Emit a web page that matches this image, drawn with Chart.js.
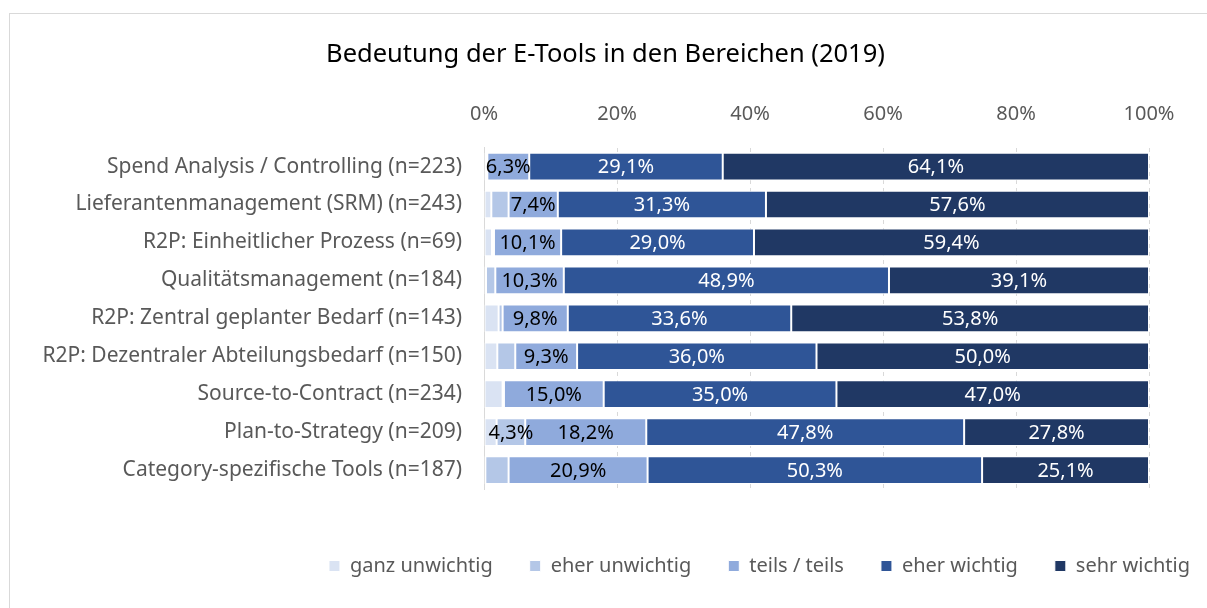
<!DOCTYPE html>
<html>
<head>
<meta charset="utf-8">
<script src="https://cdn.jsdelivr.net/npm/chart.js@4"></script>
<style>
    body { margin: 0; background: #fff; }
    #frame { position: absolute; left: 9px; top: 13px; width: 1300px; height: 700px; border: 1px solid #d9d9d9; }
    #chart1 { position: absolute; left: 0; top: 0; }
</style>
</head>
<body>
<div id="frame"></div>
<canvas id="chart1" width="1207" height="608"></canvas>
<script>
// categories (y axis)
const categories = [
    'Spend Analysis / Controlling (n=223)',
    'Lieferantenmanagement (SRM) (n=243)',
    'R2P: Einheitlicher Prozess (n=69)',
    'Qualitätsmanagement (n=184)',
    'R2P: Zentral geplanter Bedarf (n=143)',
    'R2P: Dezentraler Abteilungsbedarf (n=150)',
    'Source-to-Contract (n=234)',
    'Plan-to-Strategy (n=209)',
    'Category-spezifische Tools (n=187)'
];

// series values in percent (small ones)
const ganzUnwichtig = [0.2, 1.1, 1.2, 0.3, 2.2, 2.0, 2.8, 1.9, 0.2];
const eherUnwichtig = [0.3, 2.6, 0.3, 1.4, 0.6, 2.7, 0.2, 4.3, 3.5];
const teilsTeils = [6.3, 7.4, 10.1, 10.3, 9.8, 9.3, 15.0, 18.2, 20.9];
const eherWichtig = [29.1, 31.3, 29.0, 48.9, 33.6, 36.0, 35.0, 47.8, 50.3];
const sehrWichtig = [64.1, 57.6, 59.4, 39.1, 53.8, 50.0, 47.0, 27.8, 25.1];

const seriesNames = ['ganz unwichtig', 'eher unwichtig', 'teils / teils', 'eher wichtig', 'sehr wichtig'];
const seriesColors = ['#dae3f3', '#b4c7e7', '#8faadc', '#2f5597', '#203864'];

// x axis ticks
const tickValues = [0, 20, 40, 60, 80, 100];

const FONT = '"Noto Sans", sans-serif';
const SIZE = 20;

// 12.3 -> "12,3%"
function fmt(v) {
    return v.toFixed(1).replace('.', ',') + '%';
}

// draw value labels in the middle of the bars (only the bigger ones)
const barLabels = {
    id: 'barLabels',
    afterDatasetsDraw(chart) {
        const ctx = chart.ctx;
        ctx.save();
        ctx.font = SIZE + 'px ' + FONT;
        ctx.textAlign = 'center';
        ctx.textBaseline = 'middle';
        chart.data.datasets.forEach((ds, i) => {
            const meta = chart.getDatasetMeta(i);
            meta.data.forEach((bar, j) => {
                const v = ds.data[j];
                if (v < 4) return;
                const p = bar.getCenterPoint();
                ctx.fillStyle = i >= 3 ? '#ffffff' : '#000000';
                ctx.fillText(fmt(v), p.x, p.y + 1);
            });
        });
        ctx.restore();
    }
};

// title and legend in the original are not centered on the plot
const shiftBoxes = {
    id: 'shiftBoxes',
    afterLayout(chart) {
        chart.titleBlock.left += 31;
        chart.titleBlock.right += 31;
        chart.legend.left += 185;
        chart.legend.right += 185;
    }
};

const allSeries = [ganzUnwichtig, eherUnwichtig, teilsTeils, eherWichtig, sehrWichtig];

const ctx = document.querySelector('#chart1');
const chart = new Chart(ctx, {
    type: 'bar',
    data: {
        labels: categories,
        datasets: allSeries.map((values, i) => ({
            label: seriesNames[i],
            data: values,
            backgroundColor: seriesColors[i],
            borderColor: '#ffffff',
            borderWidth: 1,
            borderSkipped: false,
            barPercentage: 0.73,
            categoryPercentage: 1
        }))
    },
    options: {
        indexAxis: 'y',
        responsive: false,
        animation: false,
        layout: {
            padding: { top: 0, left: 0, right: 58, bottom: 22 }
        },
        scales: {
            x: {
                position: 'top',
                stacked: true,
                min: 0,
                max: 100,
                afterBuildTicks: scale => {
                    scale.ticks = tickValues.map(v => ({ value: v }));
                },
                ticks: {
                    callback: v => v + '%',
                    color: '#595959',
                    font: { family: FONT, size: SIZE },
                    padding: 21
                },
                grid: { color: '#d9d9d9', drawTicks: false },
                border: { display: false, dash: [4, 4] }
            },
            y: {
                stacked: true,
                afterFit: scale => { scale.width = 484; },
                ticks: {
                    color: '#595959',
                    font: { family: FONT, size: 21 },
                    padding: 22
                },
                grid: { display: false, drawTicks: false },
                border: { display: true, color: '#d9d9d9' }
            }
        },
        plugins: {
            title: {
                display: true,
                text: 'Bedeutung der E-Tools in den Bereichen (2019)',
                color: '#000000',
                font: { family: FONT, size: 25.5, weight: 'normal' },
                padding: { top: 39, bottom: 12 }
            },
            legend: {
                position: 'bottom',
                title: {
                    display: true,
                    text: '',
                    font: { size: 10 },
                    padding: { top: 18, bottom: 0 }
                },
                labels: {
                    boxWidth: 11,
                    boxHeight: 11,
                    padding: 37,
                    color: '#595959',
                    font: { family: FONT, size: SIZE }
                }
            },
            tooltip: { enabled: false }
        }
    },
    plugins: [barLabels, shiftBoxes]
});
</script>
</body>
</html>
